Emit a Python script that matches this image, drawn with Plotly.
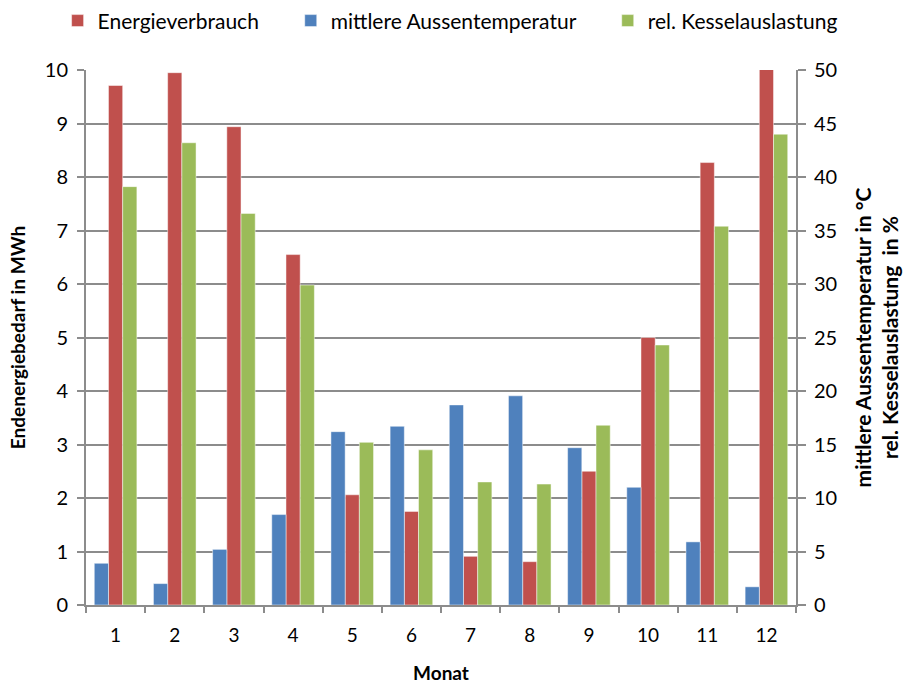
import plotly.graph_objects as go

# Monthly figures
months = ["1", "2", "3", "4", "5", "6", "7", "8", "9", "10", "11", "12"]
energy_mwh = [9.71, 9.95, 8.94, 6.55, 2.06, 1.75, 0.91, 0.81, 2.50, 5.00, 8.27, 10.05]
outdoor_temp_c = [3.9, 2.0, 5.2, 8.45, 16.2, 16.7, 18.7, 19.55, 14.7, 11.0, 5.9, 1.7]
boiler_load_pct = [39.1, 43.2, 36.6, 29.9, 15.2, 14.5, 11.5, 11.3, 16.8, 24.3, 35.4, 44.0]

RED = "#C0504D"
BLUE = "#4F81BD"
GREEN = "#9BBB59"
GRID = "#8c8c8c"
FONT = "Lato"
PAD = "\u00a0" * 5  # extra room between legend entries

fig = go.Figure()

fig.add_trace(go.Bar(
    x=months, y=outdoor_temp_c, name="mittlere Aussentemperatur" + PAD,
    marker=dict(color=BLUE, line=dict(color="rgba(255,255,255,0.6)", width=0.8)),
    yaxis="y2", offsetgroup="temp", alignmentgroup="m", legendrank=2,
))
fig.add_trace(go.Bar(
    x=months, y=energy_mwh, name="Energieverbrauch" + PAD,
    marker=dict(color=RED, line=dict(color="rgba(255,255,255,0.6)", width=0.8)),
    yaxis="y", offsetgroup="energy", alignmentgroup="m", legendrank=1,
))
fig.add_trace(go.Bar(
    x=months, y=boiler_load_pct, name="rel. Kesselauslastung",
    marker=dict(color=GREEN, line=dict(color="rgba(255,255,255,0.6)", width=0.8)),
    yaxis="y2", offsetgroup="load", alignmentgroup="m", legendrank=3,
))

fig.update_layout(
    width=909, height=684,
    margin=dict(l=86, r=113, t=70, b=79, autoexpand=False),
    paper_bgcolor="white", plot_bgcolor="white",
    font=dict(family=FONT, size=19, color="#000000"),
    barmode="group", bargap=0.28, bargroupgap=0,
    showlegend=True,
    legend=dict(
        orientation="h", x=-0.04, xanchor="left", y=1.13, yanchor="top",
        font=dict(family=FONT, size=21), traceorder="normal",
        itemclick=False, bgcolor="rgba(0,0,0,0)",
    ),
    xaxis=dict(
        type="category", categoryorder="array", categoryarray=months,
        tickson="boundaries", ticks="outside", ticklen=6, tickwidth=2, tickcolor=GRID,
        showline=True, linecolor=GRID, linewidth=2, showgrid=False,
        tickfont=dict(family=FONT, size=19), ticklabelstandoff=12,
        title=dict(text="<b>Monat</b>", font=dict(family=FONT, size=19), standoff=22),
    ),
    yaxis=dict(
        range=[0, 10], dtick=1, tick0=0,
        showgrid=True, gridcolor=GRID, gridwidth=1.8,
        showline=True, linecolor=GRID, linewidth=2,
        ticks="outside", ticklen=7, tickwidth=2, tickcolor=GRID,
        tickfont=dict(family=FONT, size=20), zeroline=False, ticklabelstandoff=5,
        title=dict(text="<b>Endenergiebedarf in MWh</b>", font=dict(family=FONT, size=19), standoff=14),
    ),
    yaxis2=dict(
        range=[0, 50], dtick=5, tick0=0, overlaying="y", side="right",
        showgrid=False, zeroline=False,
        showline=True, linecolor=GRID, linewidth=2,
        ticks="outside", ticklen=8, tickwidth=2, tickcolor=GRID,
        tickfont=dict(family=FONT, size=20), ticklabelstandoff=4,
        title=dict(
            text="<b>mittlere Aussentemperatur in °C<br>rel. Kesselauslastung  in %</b>",
            font=dict(family=FONT, size=21), standoff=20,
        ),
    ),
)

fig.write_html("out.html")
